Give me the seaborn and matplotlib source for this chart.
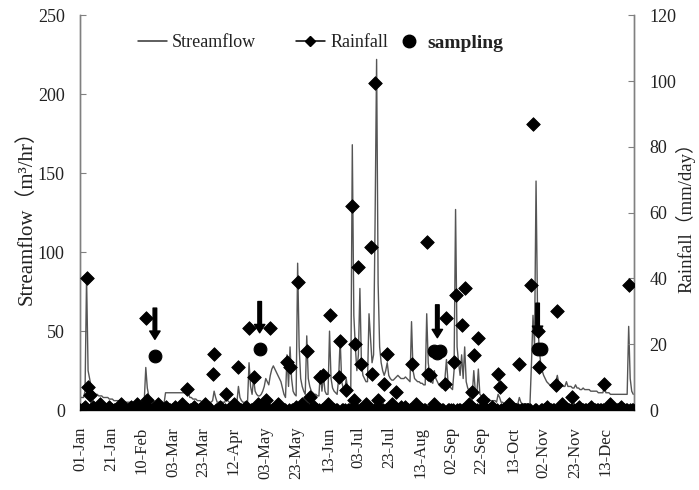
import numpy as np
import pandas as pd
import matplotlib
matplotlib.use("Agg")
import matplotlib.pyplot as plt
import seaborn as sns
from matplotlib.lines import Line2D

# ---------------- data ----------------
tick_labels = ["01-Jan", "21-Jan", "10-Feb", "03-Mar", "23-Mar", "12-Apr", "03-May",
               "23-May", "13-Jun", "03-Jul", "23-Jul", "13-Aug", "02-Sep", "22-Sep",
               "13-Oct", "02-Nov", "23-Nov", "13-Dec"]

# daily streamflow (m3/hr), one list per month
flow_jan = [8,8,8,12,84,25,20,15,12,11, 10,10,9,9,9,8,8,8,8,7, 7,7,6,6,6,6,6,6,5,5, 5]
flow_feb = [5,5,5,5,5,5,5,5,5,5, 5,6,27,14,9,7,6,5,5,4, 4,4,4,4,4,11,11,11]
flow_mar = [11,11,11,11,11,11,11,11,11,11, 11,12,11,8,8,7,7,7,6,6, 6,5,5,5,5,5,5,5,6,12, 8]
flow_apr = [5,5,5,5,5,5,8,6,5,5, 5,5,5,5,15,8,6,5,5,5, 5,30,15,10,20,12,10,9,9,10]
flow_may = [12,15,20,18,16,22,26,28,26,24, 22,20,18,14,10,8,35,15,40,20, 12,10,9,93,40,20,15,12,10,47, 20]
flow_jun = [15,12,11,10,10,9,9,25,12,22, 12,10,10,50,20,14,12,11,10,20, 45,18,14,12,20,13,12,14,168,60]
flow_jul = [40,25,35,77,30,22,20,18,18,61, 45,30,35,120,222,80,40,30,25,22, 25,30,22,20,19,19,20,21,22,21, 20]
flow_aug = [20,20,21,20,19,18,56,25,20,19, 18,18,17,17,16,16,61,30,22,18, 17,25,20,18,16,15,14,14,20,32, 18]
flow_sep = [15,14,13,25,127,40,30,22,35,20, 40,18,14,12,11,10,25,12,10,26, 10,9,8,8,7,7,7,6,6,6]
flow_oct = [6,5,10,8,5,5,4,4,4,4, 4,4,4,4,4,4,8,5,4,4, 4,4,4,4,30,60,40,145,60,40, 30]
flow_nov = [25,22,20,18,17,16,16,15,15,18, 22,17,16,16,15,15,18,15,15,15, 14,14,16,14,14,13,13,14,13,13]
flow_dec = [13,13,12,12,12,12,12,11,11,11, 11,15,11,11,11,10,10,10,10,10, 10,10,10,10,10,10,10,53,20,12, 10]

# daily rainfall (mm/day), one list per month
rain_jan = [0,0,0,1,40,7,4.5,0,1,0, 0,0,0,2,0,0,0,0,0,1, 0,0,0,0,0,0,0,2,0,0, 0]
rain_feb = [0,0,1,0,0,0,2,0,0,0, 0,1,28,3,0,0,0,0,0,0, 2,0,0,0,0,1,0,0]
rain_mar = [0,0,0,1,0,0,0,0,2,0, 0,6.4,0,0,0,0,1,0,0,0, 0,0,0,2,0,0,0,0,11,17, 0]
rain_apr = [0,0,1,0,0,0,5,0,0,0, 0,2,0,0,13,0,0,0,0,1, 0,25,0,0,10,0,0,2,0,0]
rain_may = [0,0,3,0,0,25,0,0,0,0, 2,0,0,0,0,0,14.6,0,13,0, 0,0,1,39,0,0,2,0,0,18, 0]
rain_jun = [4,0,0,1,0,0,0,10,0,10.6, 0,0,2,29,0,0,0,0,0,10, 21,0,0,0,6,0,0,0,62,3]
rain_jul = [20,0,43.5,0,14,0,0,2,0,0, 49.5,11,0,99.4,0,3,0,0,0,8, 0,17,0,0,2,0,0,5.5,0,0, 1]
rain_aug = [0,0,1,0,0,0,14,0,0,2, 0,0,0,0,0,0,51,11,10.6,0, 0,2,0,0,0,0,0,0,8,28, 0]
rain_sep = [0,0,0,14.6,35,0,0,0,26,0, 37,0,0,2,0,5.5,16.7,0,0,22, 0,0,3,0,0,0,0,0,1,0]
rain_oct = [0,0,11,7,0,0,0,0,0,2, 0,0,0,0,0,0,14,0,0,0, 0,0,0,0,38,87,0,0,24,13, 0]
rain_nov = [0,0,0,1,0,0,0,0,0,7.6, 30,0,0,2,0,0,0,0,0,0, 4,0,0,0,1,0,0,0,0,0]
rain_dec = [0,0,1,0,0,0,0,0,0,0, 0,8,0,0,0,2,0,0,0,0, 0,0,1,0,0,0,0,38,0,0, 0]

# sampling events (day of year, plotted on rainfall axis)
sampling_days = [49, 118, 233, 235, 237, 301, 303]
sampling_vals = [16.4, 18.5, 18.0, 17.5, 18.0, 18.5, 18.5]
arrow_days = [49, 118, 235, 301]
arrow_tail = [31, 33, 32, 32.5]
arrow_tip = [21.5, 23.5, 22.0, 23.0]

streamflow = (flow_jan + flow_feb + flow_mar + flow_apr + flow_may + flow_jun +
              flow_jul + flow_aug + flow_sep + flow_oct + flow_nov + flow_dec)
rainfall = (rain_jan + rain_feb + rain_mar + rain_apr + rain_may + rain_jun +
            rain_jul + rain_aug + rain_sep + rain_oct + rain_nov + rain_dec)

days = np.arange(len(streamflow))
df_flow = pd.DataFrame({"day": days, "flow": streamflow})
df_rain = pd.DataFrame({"day": np.arange(len(rainfall)), "rain": rainfall})
df_samp = pd.DataFrame({"day": sampling_days, "val": sampling_vals})
tick_pos = [pd.to_datetime(l + "-2007", format="%d-%b-%Y").dayofyear - 1 for l in tick_labels]

# ---------------- style ----------------
sns.set_style("white")
plt.rcParams["font.family"] = ["Liberation Serif", "Noto Sans CJK SC", "DejaVu Serif"]
txt = "#222222"
spine_c = "#808080"

fig = plt.figure(figsize=(6.99, 4.90), dpi=100)
ax = fig.add_axes([0.1145, 0.163, 0.7925, 0.806])
ax2 = ax.twinx()

sns.lineplot(data=df_flow, x="day", y="flow", ax=ax, color="#555555", lw=1.0)
sns.scatterplot(data=df_rain, x="day", y="rain", ax=ax2, marker="D", s=48,
                color="black", edgecolor="black", linewidth=0.6, zorder=3)
sns.scatterplot(data=df_samp, x="day", y="val", ax=ax2, marker="o", s=85,
                color="black", edgecolor="black", zorder=4)
for d, t0, t1 in zip(arrow_days, arrow_tail, arrow_tip):
    ax2.annotate("", xy=(d, t1), xytext=(d, t0),
                 arrowprops=dict(facecolor="black", edgecolor="black", width=2.6,
                                 headwidth=7.5, headlength=6, shrink=0))

ax.set_xlim(-0.3, 364.5)
ax.set_ylim(0, 250)
ax2.set_ylim(0, 120)
ax.set_yticks(np.arange(0, 251, 50))
ax2.set_yticks(np.arange(0, 121, 20))
ax.set_xticks(tick_pos)
ax.set_xticklabels(tick_labels, rotation=90, fontsize=12, color=txt)

ax.tick_params(axis="y", direction="in", length=4, pad=11, labelsize=13,
               colors=spine_c, labelcolor=txt)
ax2.tick_params(axis="y", direction="in", length=4, pad=11, labelsize=13,
                colors=spine_c, labelcolor=txt)
ax.tick_params(axis="x", length=0, pad=12)

for a in (ax, ax2):
    a.spines["top"].set_visible(False)
    for s in ("left", "right", "bottom"):
        a.spines[s].set_color(spine_c)
        a.spines[s].set_linewidth(1.0)

ax.set_xlabel("")
ax.set_ylabel("Streamflow（m³/hr）", fontsize=15, color=txt)
ax.yaxis.set_label_coords(-0.078, 0.5)
ax2.set_ylabel("Rainfall（mm/day）", fontsize=13.5, color=txt, rotation=90)
ax2.yaxis.set_label_coords(1.074, 0.5)

h_flow = Line2D([], [], color="#333333", lw=1.1)
h_rain = Line2D([], [], color="black", lw=1.1, marker="D", markersize=5)
h_samp = Line2D([], [], color="black", lw=0, marker="o", markersize=9)
leg1 = ax.legend([h_flow, h_rain], ["Streamflow", "Rainfall"], loc="center left",
                 bbox_to_anchor=(0.075, 0.93), ncol=2, frameon=False, fontsize=13,
                 handlelength=1.6, handletextpad=0.3, columnspacing=2.2)
for t in leg1.get_texts():
    t.set_color(txt)
ax.add_artist(leg1)
leg2 = ax.legend([h_samp], ["sampling"], loc="center left",
                 bbox_to_anchor=(0.545, 0.93), frameon=False,
                 handlelength=1.0, handletextpad=0.45,
                 prop={"weight": "bold", "size": 14})
for t in leg2.get_texts():
    t.set_color(txt)

fig.savefig("out.png", dpi=100)
